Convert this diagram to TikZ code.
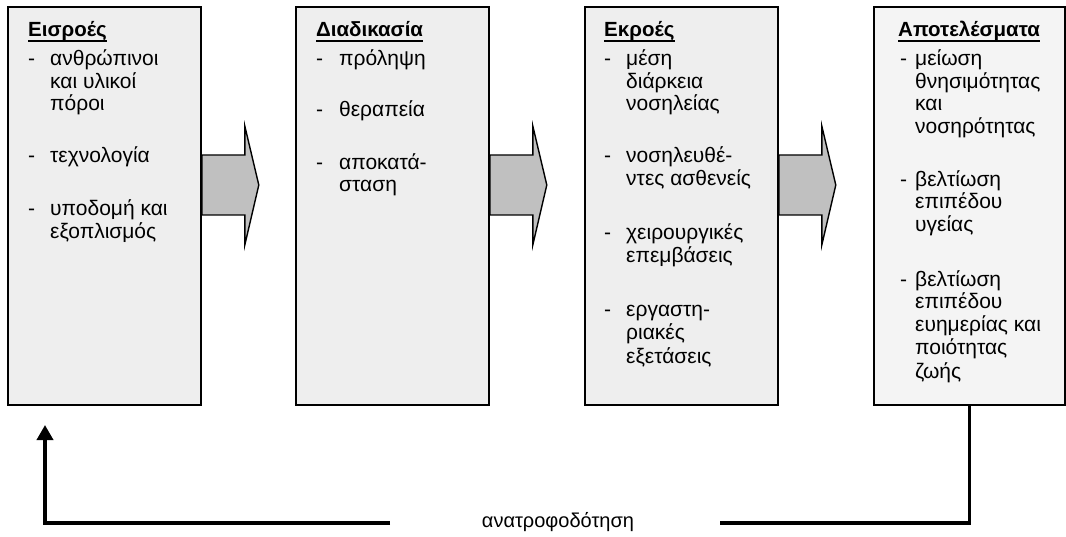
\documentclass[tikz,border=0pt]{standalone}
\usepackage{fontspec}
\setmainfont{Liberation Sans}
\usetikzlibrary{arrows.meta,calc}
\definecolor{boxfill}{HTML}{EEEEEE}
\definecolor{boxfilllight}{HTML}{F4F4F4}
\definecolor{arrowfill}{HTML}{C0C0C0}
\begin{document}
\begin{tikzpicture}[x=1pt,y=-1pt,
  box/.style={draw,line width=1.8pt,fill=boxfill,anchor=north west,inner sep=0pt,minimum height=398pt},
  txt/.style={anchor=base west,inner sep=0pt,font=\fontsize{21}{24}\selectfont},
  ttl/.style={txt,font=\fontsize{20.5}{24}\selectfont\bfseries},
  uline/.style={line width=1.8pt},
  bigarrow/.style={draw,line width=1.4pt,fill=arrowfill,line join=miter},
  fb/.style={line width=3.6pt,line join=miter}]
\useasboundingbox (0,0) rectangle (1066,537);
% boxes
\node[box,minimum width=193pt] (b1) at (7,6) {};
\node[box,minimum width=193pt] (b2) at (295,6) {};
\node[box,minimum width=193pt] (b3) at (584,6) {};
\node[box,minimum width=191pt,fill=boxfilllight] (b4) at (873,6) {};
% block arrows
\foreach \b/\n in {b1/b2,b2/b3,b3/b4}{
  \draw[bigarrow] ($(\b.north east)+(0,149)$) -- ++(43,0) -- ++(0,-29) -- ++(14,59)
     -- ++(-14,60) -- ++(0,-30) -- ($(\b.north east)+(0,209)$) -- cycle;
}
% titles
\node[ttl] (h1) at (28,37) {Εισροές};
\node[ttl] (h2) at (316,37) {Διαδικασία};
\node[ttl] (h3) at (604,37) {Εκροές};
\node[ttl] (h4) at (898,37) {Αποτελέσματα};
\foreach \h in {h1,h2,h3,h4}
  \draw[uline] ([yshift=-3.8pt]\h.base west) -- ([yshift=-3.8pt]\h.base east);
% box 1
\foreach \y/\t [count=\i] in {66/ανθρώπινοι, 89/και υλικοί, 111/πόροι, 163/τεχνολογία, 216/υποδομή και, 239/εξοπλισμός}
  \node[txt] (a\i) at (50,\y) {\t};
\foreach \y [count=\i] in {66,163,216}
  \node[txt] (ad\i) at (28,\y) {-};
% box 2
\foreach \y/\t [count=\i] in {66/πρόληψη, 117/θεραπεία, 170/αποκατά-, 192/σταση}
  \node[txt] (p\i) at (339,\y) {\t};
\foreach \y [count=\i] in {66,117,170}
  \node[txt] (pd\i) at (316,\y) {-};
% box 3
\foreach \y/\t [count=\i] in {66/μέση, 89/διάρκεια, 111/νοσηλείας, 163/νοσηλευθέ-, 186/ντες ασθενείς, 240/χειρουργικές, 263/επεμβάσεις, 317/εργαστη-, 340/ριακές, 363/εξετάσεις}
  \node[txt] (e\i) at (626,\y) {\t};
\foreach \y [count=\i] in {66,163,240,317}
  \node[txt] (ed\i) at (604,\y) {-};
% box 4
\foreach \y/\t [count=\i] in {66/μείωση, 89/θνησιμότητας, 111/και, 134/νοσηρότητας, 187/βελτίωση, 209/επιπέδου, 232/υγείας, 287/βελτίωση, 309/επιπέδου, 332/ευημερίας και, 355/ποιότητας, 378/ζωής}
  \node[txt] (r\i) at (915,\y) {\t};
\foreach \y [count=\i] in {66,187,287}
  \node[txt] (rd\i) at (900,\y) {-};
% feedback
\coordinate (fbr) at (720,523);
\coordinate (fbl) at (390,523);
\coordinate (fbtip) at (45,425);
\node[txt,anchor=base,font=\fontsize{20}{23}\selectfont] (fbt) at (558,527) {ανατροφοδότηση};
\draw[fb] (b4.south) |- (fbr);
\draw[fb,-{Triangle[width=16pt,length=15pt]}] (fbl) -| (fbtip);
\end{tikzpicture}
\end{document}
